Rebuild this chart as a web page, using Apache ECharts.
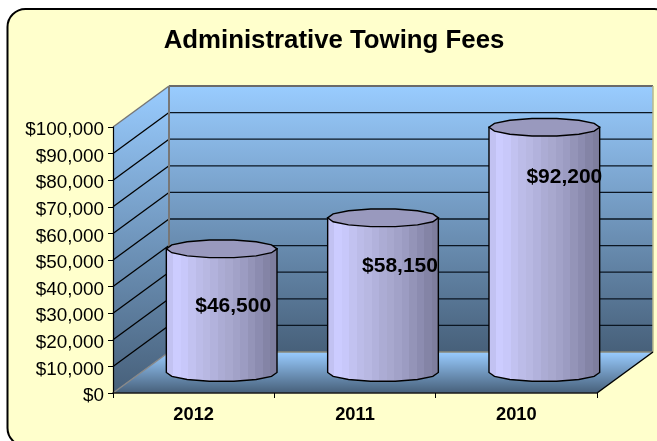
<!DOCTYPE html>
<html><head><meta charset="utf-8">
<style>html,body{margin:0;padding:0;background:#fff}#c{width:657px;height:441px}</style>
<script src="https://cdn.jsdelivr.net/npm/echarts@6/dist/echarts.min.js"></script>
</head><body><div id="c"></div>
<script>
const categories = ['2012', '2011', '2010'];
const fees = [46500, 58150, 92200];
const valueTicks = [0, 10000, 20000, 30000, 40000, 50000, 60000, 70000, 80000, 90000, 100000];
const titleText = 'Administrative Towing Fees';

// layout of the fake 3D box, not data
const DX = 56, DY = -41;
const labelX = [39.5, 45, 48];
const labelAt = [32700, 47700, 81200];
const RY = 9, SIDES = 14;
const bands = ['#C2C2F2','#CCCCFF','#C8C8FA','#C2C2F0','#BCBCE8','#B8B8E2','#B2B2DC','#ACACD4','#A8A8CE','#A2A2C8','#9C9CC2','#9494B8','#8C8CB0','#8484A6','#7E7E9E'];
const bodyFill = {type:'linear',x:0,y:0,x2:1,y2:0,colorStops:bands.flatMap((c,i)=>[
  {offset:i/bands.length,color:c},{offset:(i+1)/bands.length,color:c}])};
const wallFill = {type:'linear',x:0,y:0,x2:0,y2:1,colorStops:[{offset:0,color:'#99CCFF'},{offset:1,color:'#47607A'}]};
const money = v => '$' + v.toLocaleString('en-US');

function renderBox(params, api) {
  const band = api.size([1,0])[0];
  const left = api.coord([0,0])[0] - band/2;
  const right = api.coord([categories.length-1,0])[0] + band/2;
  const y0 = api.coord([0,0])[1];
  const yMax = api.coord([0,100000])[1];
  const kids = [];
  const poly = (points, style) => kids.push({type:'polygon',shape:{points},style});
  const line = (x1,y1,x2,y2,stroke,lineWidth) => kids.push({type:'line',shape:{x1,y1,x2,y2},style:{stroke,lineWidth}});
  poly([[left,yMax],[left+DX,yMax+DY],[left+DX,y0+DY],[left,y0]], {fill:wallFill});
  poly([[left+DX,yMax+DY],[right+DX,yMax+DY],[right+DX,y0+DY],[left+DX,y0+DY]], {fill:wallFill});
  poly([[left+DX,y0+DY],[right+DX,y0+DY],[right,y0],[left,y0]], {fill:wallFill});
  valueTicks.forEach(v => {
    if (v === 0 || v === 100000) return;
    const y = api.coord([0,v])[1];
    line(left,y,left+DX,y+DY,'#000',1.3);
    line(left+DX,y+DY,right+DX,y+DY,'#0b1622',1.3);
  });
  line(left,yMax,left+DX,yMax+DY,'#777',1.5);
  line(left+DX,yMax+DY,right+DX,yMax+DY,'#6a6a6a',2);
  line(left+DX,yMax+DY,left+DX,y0+DY,'#777',2);
  line(right+DX,yMax+DY,right+DX,y0+DY,'#B9B98F',1.5);
  line(left,y0,left+DX,y0+DY,'#888',1.5);
  line(left+DX,y0+DY,right+DX,y0+DY,'#8a8a7a',1.5);
  line(right,y0,right+DX,y0+DY,'#000',1.5);
  return {type:'group',children:kids};
}

function renderCylinder(params, api) {
  const i = api.value(0), v = api.value(1);
  const c = api.coord([i,v]), b = api.coord([i,0]);
  const band = api.size([1,0])[0];
  const rx = band*0.343;
  const cx = c[0] + DX/2, top = c[1] + DY/2, bot = b[1] + DY/2;
  const arc = (yc, from, to) => {
    const p = [];
    for (let k=from;k<=to;k++){const a=k/SIDES*2*Math.PI;p.push([cx+rx*Math.cos(a),yc+RY*Math.sin(a)]);}
    return p;
  };
  const ring = arc(top,0,SIDES-1);
  const body = [[cx+rx,top]].concat(arc(bot,0,SIDES/2)).concat([[cx-rx,top]]);
  const lc = api.coord([i,labelAt[i]]);
  return {type:'group',children:[
    {type:'polygon',shape:{points:body},style:{fill:bodyFill,stroke:'#000',lineWidth:1.4}},
    {type:'polygon',shape:{points:ring},style:{fill:'#9999BE',stroke:'#000',lineWidth:1.4}},
    {type:'text',x:lc[0]+labelX[i],y:lc[1],style:{text:money(v),fill:'#000',font:'bold 21px "Liberation Sans"',textAlign:'center',textVerticalAlign:'middle'}}
  ]};
}

const chart = echarts.init(document.getElementById('c'), null, {renderer:'canvas'});
chart.setOption({
  animation:false,
  backgroundColor:'#fff',
  graphic:[{type:'rect',z:-10,silent:true,shape:{x:7.5,y:9,width:665,height:437,r:18},style:{fill:'#FFFFCC',stroke:'#000',lineWidth:2}}],
  title:{text:titleText,left:329,top:23,textAlign:'center',textStyle:{fontFamily:'Liberation Sans',fontWeight:'bold',fontSize:25.8,color:'#000'}},
  grid:{left:113,right:60,top:127,bottom:48,containLabel:false},
  xAxis:{type:'category',data:categories,
    axisLine:{show:true,lineStyle:{color:'#1a1a1a',width:1.5}},
    axisTick:{show:true,alignWithLabel:false,length:5,lineStyle:{color:'#000'}},
    axisLabel:{fontFamily:'Liberation Sans',fontWeight:'bold',fontSize:18.3,color:'#000',margin:13},
    z:5},
  yAxis:{type:'value',min:0,max:100000,interval:10000,
    axisLine:{show:true,lineStyle:{color:'#000',width:1.2}},
    axisTick:{show:true,length:5,lineStyle:{color:'#000'}},
    splitLine:{show:false},
    axisLabel:{fontFamily:'Liberation Sans',fontSize:18.9,color:'#000',margin:9,verticalAlign:'top',lineHeight:6,formatter:money},
    z:5},
  series:[
    {type:'custom',coordinateSystem:'cartesian2d',clip:false,silent:true,z:1,renderItem:renderBox,data:[[0,0]],encode:{x:0,y:1}},
    {type:'custom',coordinateSystem:'cartesian2d',clip:false,silent:true,z:3,renderItem:renderCylinder,
      data:fees.map((v,i)=>[i,v]),encode:{x:0,y:1}}
  ]
});
</script></body></html>
